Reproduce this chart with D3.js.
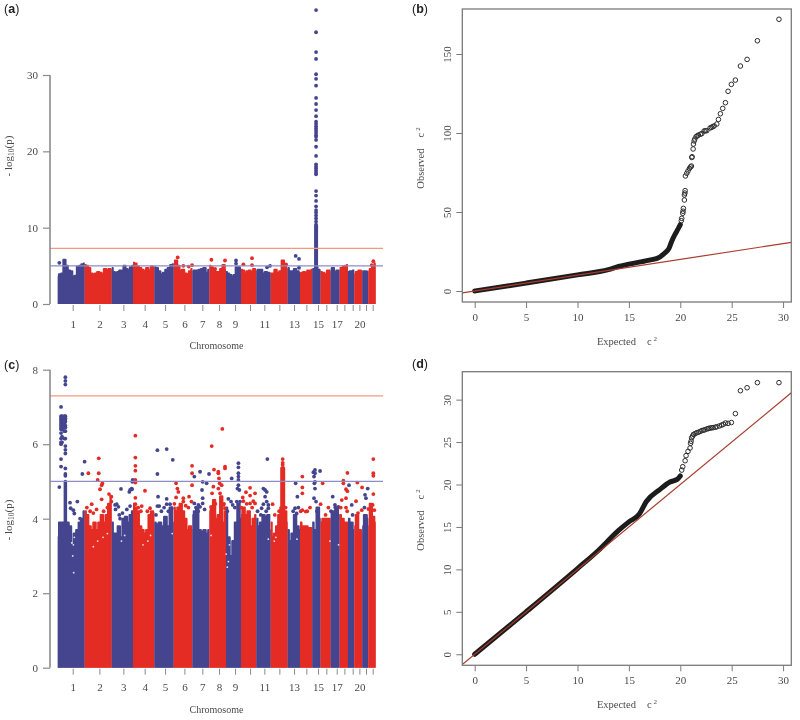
<!DOCTYPE html>
<html><head><meta charset="utf-8">
<script src="https://cdn.jsdelivr.net/npm/d3@7/dist/d3.min.js"></script>
<style>html,body{margin:0;padding:0;background:#fff}svg{display:block;filter:blur(0.35px)}</style>
</head><body><svg id="c" width="800" height="720"></svg>
<script>
// chromosome lengths (Mb)
const chromLengths=[250,250,197.5,197.5,179,173,157,154,139,142,133,157,114,114,77,93,83,77,59,74,56,68];
const chromTicks=[139,386,608,805,994,1173,1339,1494,1642,1781,1913,2052,2188,2302,2410,2487,2583,2654,2731,2793,2854,2916];
const chromLabels=["1","2","3","4","5","6","7","8","9","","11","","13","","15","","17","","","20","",""];

const skylineA=[
[3.6,3.9,4.0,5.8,5.0,4.4,4.3,3.6,3.7,4.9,5.0,5.2,5.3],
[5.1,5.0,4.7,4.0,3.9,4.0,4.2,4.1,3.9,4.6,4.5,4.6,4.5],
[4.7,4.2,4.0,4.2,4.4,4.4,5.0,4.6,4.4,4.8,5.0],
[5.4,5.3,4.9,4.7,4.5,4.3,4.7,4.4,4.9,4.7],
[4.8,4.7,4.3,3.9,4.1,4.5,4.7,5.1,5.2],
[5.2,5.7,5.0,4.4,4.5,4.0,3.9,4.3,4.6],
[4.3,4.4,4.4,4.5,4.6,4.7,4.1,4.5],
[5.0,4.8,4.6,4.2,4.2,4.6,5.1,4.4],
[4.2,4.0,3.8,3.5,3.8,4.8,4.8,4.6],
[4.5,4.4,4.0,4.3,4.4,4.2,4.6,4.2],
[4.4,4.5,4.5,4.0,4.2,4.1,4.0],
[4.0,4.0,4.5,4.1,4.3,5.7,5.0,4.6],
[4.7,4.3,4.3,4.6,4.3,4.1],
[3.9,4.1,4.2,4.1,4.4,4.3,4.5],
[4.6,4.6,4.8,4.5,4.4],
[4.2,4.1,3.9,4.4,4.3],
[4.6,4.7,4.2,4.4,4.4],
[4.7,4.7,4.9,5.0,5.1],
[4.2,4.3,4.4],
[3.9,4.2,4.4,4.3],
[4.3,4.3,4.2],
[4.3,4.6,5.0,5.3]];
const outliersA=[[15,5.4],[1111,6.1],[1163,5.0],[1213,4.9],[1244,5.1],[1423,5.8],[1457,4.6],[1549,5.7],[1651,5.7],[1651,5.3],[1719,5.2],[1799,6.0],[1799,5.1],[1938,4.8],[1966,5.0],[2114,5.2],[2203,6.3],[2234,5.9],[2234,4.75],[2922,5.6],[2907,5.1]];
const spikeMbA=2392;
const spikeValuesA=[38.5,35.6,33,32.1,30.1,29.5,28.6,27,26.2,25.4,24.6,23.9,23.6,23.3,23,22.7,22.4,22.1,21.9,21.5,20.6,19.4,18.3,18,17.8,17.5,17.2,17,14.8,14.2,13.5,12.8,12.3,12,11.6,11.2,10.8,10.4];
const spikeBaseA=[2392,4,10.2];

const skylineC=[
[3.5,3.9,3.9,3.7,3.9,3.8,3.3,3.6,3.7,3.9,4.0,4.2],
[4.2,4.1,3.8,3.7,3.9,3.7,3.9,4.1,3.9,4.1,4.4,4.6],
[3.9,3.6,3.6,3.8,3.5,4.0,4.05,3.9,4.1,4.2],
[4.4,4.3,4.2,3.8,3.7,3.6,3.7,4.1,4.2,4.1],
[3.9,3.85,3.9,3.8,4.05,3.8,4.3,3.9],
[4.3,4.2,4.3,4.4,4.2,4.0,3.7,3.8,3.7],
[4.1,4.2,4.3,3.7,3.65,3.7,3.6,3.7],
[4.2,4.3,4.5,4.0,4.1,4.6,3.9,4.2],
[4.3,3.5,3.0,3.4,3.9,4.4,4.0],
[4.1,4.3,4.1,4.2,3.8,4.0,4.1],
[4.0,3.8,3.9,4.1,4.05,4.1,3.7],
[3.9,3.5,3.6,3.8,4.1,4.3,3.9,4.2,3.9],
[3.7,3.4,3.6,4.1,3.8,3.7],
[3.9,3.8,3.8,3.75,3.75],
[3.9,3.7,4.3,4.0],
[3.9,4.0,4.0,4.0],
[4.2,4.2,4.3,4.1],
[4.1,4.0,3.9,3.9],
[4.0,3.9,3.7],
[3.8,4.1,3.7,3.6],
[3.8,4.1,4.0],
[3.8,4.4,4.05,3.9]];
const columnsC=[[31,[7.0,6.75,6.7,6.65,6.6,6.55,6.5,6.45,6.4,6.3,6.15,6.05,6.0,5.6,5.4]],
[40,[6.75,6.7,6.6,6.5,6.4,6.2,6.05]],
[62,[6.75,6.65,6.55,6.45,6.35,6.15]],
[71,[7.8,7.7,7.6,6.75,6.7,6.65,6.6,6.5,6.45,6.35,6.15,5.95,5.85,5.75,5.35,5.2,5.15]],
[2083,[5.6,5.5,5.45]]];
const solidColumnsC=[[71,3.7,5.0,3.5],[2083,3.9,5.35,5]];
const outliersC=[[15,4.85],[114,4.43],[182,4.46],[120,4.28],[145,4.23],[154,4.14],[207,4.0],[228,5.2],[249,5.53],[284,5.22],[380,5.62],[380,5.22],[370,5.04],[414,4.95],[407,4.9],[392,4.79],[407,4.52],[315,4.39],[475,4.66],[497,4.59],[497,4.46],[531,4.37],[562,4.32],[586,4.8],[546,4.39],[577,4.0],[670,4.77],[663,4.72],[685,4.81],[688,4.79],[670,4.34],[691,4.99],[694,5.04],
[719,6.23],[719,5.64],[719,5.42],[719,5.29],[719,5.04],[719,4.97],[719,4.56],[719,4.39],[808,4.75],[778,4.34],[855,4.28],[923,5.84],[923,5.2],[929,4.59],[923,4.34],
[1009,5.87],[1065,5.58],[1009,4.53],[1009,4.39],[1040,4.39],[940,4.34],[1055,4.28],
[1096,4.95],[1108,4.81],[1117,4.72],[1096,4.57],[1163,4.55],[1163,4.46],[1216,4.59],[1244,5.42],[1244,5.22],[1244,4.9],[1238,4.46],
[1265,5.13],[1318,5.26],[1342,4.99],[1379,4.95],[1336,4.77],[1342,4.55],[1342,4.41],[1265,4.41],[1318,4.32],[1302,4.37],[1401,5.2],
[1426,5.95],[1447,5.32],[1441,4.86],[1429,4.68],[1420,4.32],[1487,5.26],[1487,5.22],[1493,5.08],[1499,4.95],[1487,4.81],[1503,4.68],[1518,4.9],[1524,6.41],[1549,5.4],[1549,5.35],[1512,4.55],[1534,4.37],[1549,4.28],
[1673,5.49],[1673,5.38],[1673,5.22],[1673,5.13],[1673,5.04],[1673,4.9],[1664,4.81],[1682,4.77],[1658,4.46],[1688,4.46],[1611,5.08],[1580,4.53],[1605,4.46],[1620,4.37],
[1719,4.47],[1743,4.71],[1781,4.83],[1781,4.62],[1827,4.68],[1811,4.47],[1713,4.57],[1781,4.41],[1827,4.41],
[1941,5.6],[1904,4.81],[1920,4.77],[1935,4.72],[1920,4.59],[1904,4.39],[1950,4.28],[1888,4.28],[1935,4.46],[1950,4.37],
[1990,4.39],[2203,4.95],[2219,4.59],[2197,4.28],[2228,4.3],[2212,4.14],
[2265,5.13],[2265,4.84],[2265,4.68],[2336,4.3],[2265,4.23],[2296,4.19],
[2382,5.22],[2382,5.31],[2429,5.28],[2373,5.13],[2382,4.99],[2382,4.81],[2373,4.55],[2392,4.46],[2367,5.25],[2376,4.95],[2434,4.39],
[2453,4.95],[2506,4.3],[2546,4.59],[2567,4.37],[2598,4.32],
[2645,5.02],[2645,4.95],[2682,5.23],[2669,4.79],[2682,4.74],[2697,4.9],[2630,4.5],[2669,4.55],[2669,4.3],[2722,4.37],
[2774,4.97],[2762,4.47],[2815,4.23],[2818,4.84],[2870,4.81],[2845,4.64],[2876,4.26],[2854,4.55],
[2922,5.6],[2922,5.22],[2922,5.15],[2922,4.66],[2916,4.37],[2931,4.23],
[270,4.3],[300,4.2],[330,4.15],[360,4.25],[425,4.2],[460,4.3],[535,4.25],[570,4.1],[600,4.15],[640,4.25],[745,4.3],[770,4.2],[830,4.2],[880,4.15],[910,4.1],[960,4.2],[985,4.3],[1025,4.2],[1080,4.4],[1140,4.35],[1185,4.35],[1210,4.3],[1280,4.3],[1300,4.2],[1360,4.25],[1460,4.4],[1540,4.4],[1570,4.2],[1640,4.3],[1700,4.3],[1750,4.4],[1800,4.3],[1850,4.2],[1880,4.1],[1930,4.2],[2010,4.1],[2050,4.2],[2110,4.3],[2180,4.2],[2250,4.2],[2310,4.2],[2400,4.2],[2480,4.1],[2530,4.2],[2570,4.3],[2620,4.3],[2680,4.2],[2730,4.1],[2780,4.15],[2840,4.3],[2900,4.2]];
const specksC=[[139,3.0],[148,2.55],[130,3.35],[145,3.3],[154,3.5],[330,3.25],[370,3.4],[420,3.5],[460,3.6],[590,3.4],[620,3.55],[790,3.3],[835,3.4],[860,3.55],[1060,3.6],[1420,3.55],[1560,3.05],[1580,2.85],[1570,2.7],[1590,3.3],[1950,3.45],[2005,3.4],[2020,3.5],[2215,3.45],[2520,3.4],[2600,3.3]];

const qqDenseB=[[0,0],[5,5],[10,10.2],[13,13.5],[14,15.5],[15,17],[16,18.3],[17,19.5],[18,21.5],[18.5,24],[18.9,27],[19.2,32],[19.5,36],[19.8,39.5],[20,42]];
const qqSparseB=[[29.6,172],[27.5,158.4],[26.5,146.6],[25.85,142.4],[25.36,133.5],[24.97,130.8],[24.65,126.4],[24.39,119.2],[24.13,115.6],[23.9,112.2],[23.71,108.6],[23.55,105.7],[23.3,104.5],[23.16,104],[23.03,103.6],[22.9,103.2],[22.58,101.5],[22.45,101.4],[22.32,101.3],[22.09,99.6],[21.95,99.2],[21.76,98.7],[21.65,98.2],[21.54,97.7],[21.41,96.2],[21.35,95],[21.28,93],[21.25,89.9],[21.15,85],[21.12,84.5],[21.08,79.1],[21,78.5],[20.89,77.6],[20.75,76],[20.63,74.5],[20.5,72.8],[20.47,63.5],[20.45,62],[20.4,60.8],[20.4,57.6],[20.3,52.3],[20.27,50.5],[20.24,49.2],[20.14,46],[20.1,44.5]];
const qqDenseD=[[0,0],[5,5],[10,10.1],[12,12.2],[14,14.6],[15,15.6],[16,16.5],[16.7,18],[18,19.4],[19,20.3],[19.7,20.6],[20,21]];
const qqSparseD=[[29.6,32],[27.5,32],[26.5,31.4],[25.85,31.05],[25.36,28.35],[24.97,27.3],[24.65,27.2],[24.4,27.25],[24.2,27.1],[24.03,27],[23.8,26.9],[23.55,26.8],[23.4,26.75],[23.2,26.7],[23.05,26.68],[22.9,26.65],[22.75,26.6],[22.6,26.55],[22.4,26.45],[22.25,26.4],[22.1,26.35],[21.93,26.25],[21.75,26.15],[21.6,26.1],[21.45,26],[21.28,25.9],[21.2,25.7],[21.1,25.5],[21.05,25.1],[21,24.85],[20.95,24.3],[20.75,23.9],[20.56,23.4],[20.47,22.8],[20.24,22.1],[20.14,21.7]];
const yTicksA=[0,10,20,30], yTicksC=[0,2,4,6,8];
const qqXTicks=[0,5,10,15,20,25,30], qqYTicksB=[0,50,100,150], qqYTicksD=[0,5,10,15,20,25,30];

const BLUE="#45458f", RED="#e42c25", GRAY="#8b8b8b", TXT="#4a4a4a", SERIF="'Liberation Serif',serif", SANS="'Liberation Sans',sans-serif";
const svg=d3.select("#c");
const starts=d3.cumsum([0,...chromLengths]);
const total=starts[starts.length-1];
const chromOf=mb=>Math.min(d3.bisectRight(starts,mb)-1,chromLengths.length-1);
const colorOf=i=>i%2===0?BLUE:RED;
let clipId=0;

function manhattan(cfg){
  const g=svg.append("g");
  const x=d3.scaleLinear().domain([0,total]).range([57.7,375.7]);
  const y=d3.scaleLinear().domain(cfg.dom).range([cfg.y0,cfg.yTop]);
  cfg.skyline.forEach((vals,i)=>{
    const id="clip"+(clipId++);
    svg.append("clipPath").attr("id",id).append("rect")
      .attr("x",x(starts[i])).attr("width",x(starts[i+1])-x(starts[i]))
      .attr("y",0).attr("height",y(0));
    const pos=vals.map((v,j)=>[starts[i]+chromLengths[i]*j/(vals.length-1),v]);
    g.append("path").attr("clip-path",`url(#${id})`)
      .attr("d",d3.area().curve(d3.curveStep).x(d=>x(d[0])).y0(y(0)).y1(d=>y(d[1]))(pos))
      .attr("fill",colorOf(i)).attr("stroke",colorOf(i)).attr("stroke-width",2).attr("stroke-linejoin","round");
  });
  (cfg.specks||[]).forEach(d=>g.append("circle").attr("cx",x(d[0])).attr("cy",y(d[1])).attr("r",.9).attr("fill","#fff").attr("opacity",.85));
  (cfg.solid||[]).forEach(d=>g.append("line").attr("x1",x(d[0])).attr("x2",x(d[0])).attr("y1",y(d[1])).attr("y2",y(d[2]))
      .attr("stroke",colorOf(chromOf(d[0]))).attr("stroke-width",d[3]).attr("stroke-linecap","round"));
  g.selectAll(null).data(cfg.points).enter().append("circle")
    .attr("cx",d=>x(d[0])).attr("cy",d=>y(d[1])).attr("r",1.9).attr("fill",d=>colorOf(chromOf(d[0])));
  // thresholds
  [[7.3,"#f29a80"],[5,"#8d8dc6"]].forEach(([v,c])=>{
    svg.append("line").attr("x1",50).attr("x2",383).attr("y1",y(v)).attr("y2",y(v)).attr("stroke",c).attr("stroke-width",1.2);
  });
  // axes
  const ax=svg.append("g").attr("transform","translate(50,0)").call(d3.axisLeft(y).tickValues(cfg.ticks).tickSize(7).tickPadding(5).tickFormat(d3.format("d")));
  ax.select(".domain").attr("stroke",GRAY).attr("stroke-width",1.6).attr("d",`M0,${y(cfg.ticks[cfg.ticks.length-1])}V${y(0)}`);
  ax.selectAll(".tick line").attr("stroke",GRAY).attr("stroke-width",1.2);
  ax.selectAll("text").attr("font-family",SERIF).attr("font-size",11).attr("fill",TXT);
  const bx=svg.append("g").attr("transform",`translate(0,${cfg.y0+1})`).call(d3.axisBottom(x).tickValues(chromTicks).tickSize(6).tickPadding(9).tickFormat((d,i)=>chromLabels[i]));
  bx.select(".domain").remove();
  bx.selectAll(".tick line").attr("stroke",GRAY).attr("stroke-width",1);
  bx.selectAll("text").attr("font-family",SERIF).attr("font-size",11).attr("fill",TXT);
  svg.append("text").attr("x",216.5).attr("y",cfg.y0+45).attr("text-anchor","middle").attr("font-family",SERIF).attr("font-size",10).attr("fill",TXT).text("Chromosome");
  const lab=svg.append("text").attr("transform",`translate(12,${cfg.labY}) rotate(-90)`).attr("text-anchor","middle").attr("font-family",SERIF).attr("font-size",11).attr("fill",TXT);
  lab.append("tspan").text("- log");
  lab.append("tspan").attr("font-size",7.5).attr("dy",2).text("10");
  lab.append("tspan").attr("dy",-2).text("(p)");
}
function qq(cfg){
  const x=d3.scaleLinear().domain([-1.206,30.8]).range([462.3,791.3]);
  const y=d3.scaleLinear().domain(cfg.dom).range([cfg.bottom,cfg.top]);
  const id="clipqq"+(clipId++);
  svg.append("clipPath").attr("id",id).append("rect").attr("x",462.3).attr("y",cfg.top).attr("width",329).attr("height",cfg.bottom-cfg.top);
  const g=svg.append("g").attr("clip-path",`url(#${id})`);
  g.append("path").attr("d",d3.line().curve(d3.curveMonotoneX).x(d=>x(d[0])).y(d=>y(d[1]))(cfg.dense)).attr("fill","none").attr("stroke","#1c1c1c").attr("stroke-width",5).attr("stroke-linecap","round").attr("stroke-linejoin","round");
  g.selectAll(null).data(cfg.sparse).enter().append("circle").attr("cx",d=>x(d[0])).attr("cy",d=>y(d[1])).attr("r",2.3).attr("fill","none").attr("stroke","#2b2b2b").attr("stroke-width",1);
  g.append("line").attr("x1",x(-1.206)).attr("y1",y(-1.206)).attr("x2",x(30.8)).attr("y2",y(30.8)).attr("stroke","#a83c2c").attr("stroke-width",1.2);
  svg.append("rect").attr("x",462.3).attr("y",cfg.top).attr("width",329).attr("height",cfg.bottom-cfg.top).attr("fill","none").attr("stroke","#7a7a7a").attr("stroke-width",1.3);
  const bx=svg.append("g").attr("transform",`translate(0,${cfg.bottom})`).call(d3.axisBottom(x).tickValues(qqXTicks).tickSize(6).tickPadding(5).tickFormat(d3.format("d")));
  bx.select(".domain").remove();
  const ly=svg.append("g").attr("transform","translate(462.3,0)").call(d3.axisLeft(y).tickValues(cfg.yTicks).tickSize(6).tickPadding(5).tickFormat(d3.format("d")));
  ly.select(".domain").remove();
  [bx,ly].forEach(a=>{a.selectAll(".tick line").attr("stroke","#7a7a7a");a.selectAll("text").attr("font-family",SERIF).attr("font-size",11).attr("fill",TXT);});
  ly.selectAll(".tick text").attr("transform","rotate(-90)").attr("x",0).attr("y",-11).attr("dy",0).attr("text-anchor","middle");
  const e=svg.append("text").attr("x",627).attr("y",cfg.bottom+43).attr("text-anchor","middle").attr("font-family",SERIF).attr("font-size",10.5).attr("fill",TXT);
  e.text("Expected").append("tspan").attr("dx",11).text("c");
  e.append("tspan").attr("dy",-4).attr("dx",2).attr("font-size",7).text("2");
  const o=svg.append("text").attr("transform",`translate(424,${cfg.obsY}) rotate(-90)`).attr("text-anchor","middle").attr("font-family",SERIF).attr("font-size",10.5).attr("fill",TXT);
  o.text("Observed").append("tspan").attr("dx",11).text("c");
  o.append("tspan").attr("dy",-4).attr("dx",2).attr("font-size",7).text("2");
}
manhattan({dom:[0,30],y0:304,yTop:75,skyline:skylineA,points:[...outliersA,...spikeValuesA.map(v=>[spikeMbA,v])],solid:[[...spikeBaseA,4]],ticks:yTicksA,labY:156});
manhattan({dom:[0,8],y0:667.7,yTop:369.7,skyline:skylineC,specks:specksC,points:[...columnsC.flatMap(c=>c[1].map(v=>[c[0],v])),...outliersC],solid:solidColumnsC,ticks:yTicksC,labY:520});
qq({dom:[-6.96,178.5],top:9,bottom:302,dense:qqDenseB,sparse:qqSparseB,yTicks:qqYTicksB,obsY:158});
qq({dom:[-1.3,33.29],top:371.7,bottom:665.3,dense:qqDenseD,sparse:qqSparseD,yTicks:qqYTicksD,obsY:520});
[["a",4,13],["c",4,369],["b",412,13],["d",412,368]].forEach(([l,x,y])=>{
  const t=svg.append("text").attr("x",x).attr("y",y).attr("font-family",SANS).attr("font-size",12.5).attr("fill","#222");
  t.append("tspan").text("(");t.append("tspan").attr("font-weight","bold").text(l);t.append("tspan").text(")");
});
</script></body></html>
